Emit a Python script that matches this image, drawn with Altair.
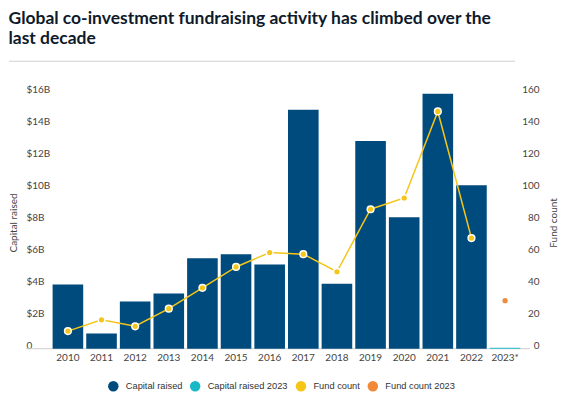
import altair as alt
import pandas as pd

years = ["2010", "2011", "2012", "2013", "2014", "2015", "2016", "2017",
         "2018", "2019", "2020", "2021", "2022", "2023*"]
capital_raised = [4.0, 0.95, 2.95, 3.45, 5.65, 5.9, 5.25, 14.9, 4.05, 12.95,
                  8.2, 15.9, 10.2, 0.06]
capital_series = ["Capital raised"] * 13 + ["Capital raised 2023"]
fund_count = [11, 18, 14, 25, 38, 51, 60, 59, 48, 87, 94, 148, 69, 30]
count_series = ["Fund count"] * 13 + ["Fund count 2023"]

series_names = ["Capital raised", "Capital raised 2023", "Fund count", "Fund count 2023"]
series_colors = ["#004b7d", "#17b9c7", "#f5c518", "#f08a38"]

bars_df = pd.DataFrame({"year": years, "capital": capital_raised, "series": capital_series})
count_df = pd.DataFrame({"year": years, "count": fund_count, "series": count_series})
line_df = count_df[count_df["series"] == "Fund count"]
dummy = pd.DataFrame({"k": [0]})

W, H = 472, 257
FONT = "Lato"

x_enc = alt.X("year:N", sort=years, title=None,
              scale=alt.Scale(paddingInner=0.09, paddingOuter=0.05),
              axis=alt.Axis(labelAngle=0, tickSize=0, domain=False, labelPadding=4,
                            labelFont=FONT, labelFontSize=10, labelColor="#444"))

color_enc = alt.Color("series:N", title=None,
                      scale=alt.Scale(domain=series_names, range=series_colors),
                      legend=alt.Legend(orient="none", direction="horizontal", columns=4,
                                        legendX=57, legendY=289,
                                        symbolType="circle", symbolSize=110,
                                        symbolStrokeWidth=0, symbolOpacity=1,
                                        labelFont="Liberation Sans", labelFontSize=9.3,
                                        labelColor="#333", labelOffset=7,
                                        columnPadding=7))

count_axis = alt.Axis(orient="right", values=list(range(0, 161, 20)), labelOverlap=False,
                      tickSize=0, domain=False, grid=False,
                      labelAlign="right", labelPadding=17, labelBaseline="alphabetic",
                      labelFont=FONT, labelFontSize=10, labelColor="#444",
                      title="Fund count", titleFont=FONT, titleFontSize=10,
                      titleFontWeight="normal", titleColor="#444",
                      titleX=31, titleY=H / 2 + 2, titleAngle=-90,
                      titleBaseline="middle", titleAlign="center")

bars = alt.Chart(bars_df).mark_bar().encode(
    x=x_enc,
    y=alt.Y("capital:Q", scale=alt.Scale(domain=[0, 16]),
            axis=alt.Axis(values=list(range(0, 17, 2)), labelOverlap=False,
                          labelExpr="datum.value == 0 ? '0' : '$' + datum.value + 'B'",
                          tickSize=0, domain=False, grid=False,
                          labelAlign="left", labelPadding=25, labelBaseline="alphabetic",
                          labelFont=FONT, labelFontSize=10, labelColor="#444",
                          title="Capital raised", titleFont=FONT, titleFontSize=10,
                          titleFontWeight="normal", titleColor="#444",
                          titleX=-37, titleY=H / 2 + 2, titleAngle=-90,
                          titleBaseline="middle", titleAlign="center")),
    color=color_enc,
)

line = alt.Chart(line_df).mark_line(color="#f5c518", strokeWidth=1.5).encode(
    x=alt.X("year:N", sort=years),
    y=alt.Y("count:Q", scale=alt.Scale(domain=[0, 160]), axis=count_axis),
)

points = alt.Chart(count_df).mark_point(filled=True, size=45, stroke="white",
                                          strokeWidth=1.5, opacity=1).encode(
    x=alt.X("year:N", sort=years),
    y=alt.Y("count:Q", scale=alt.Scale(domain=[0, 160]), axis=count_axis),
    color=color_enc,
)

baseline = alt.Chart(dummy).mark_rule(color="#cfcfcf", strokeWidth=1).encode(
    x=alt.value(-25), x2=alt.value(W + 8), y=alt.value(H))

separator = alt.Chart(dummy).mark_rule(color="#d0d0d0", strokeWidth=1).encode(
    x=alt.value(-42), x2=alt.value(W - 7), y=alt.value(-31))

chart = alt.layer(
    separator, baseline, bars, alt.layer(line, points)
).resolve_scale(y="independent").properties(
    width=W, height=H,
    padding={"left": 0, "top": 2, "right": 0, "bottom": 0},
    title=alt.Title(
        ["Global co-investment fundraising activity has climbed over the", "last decade"],
        anchor="start", frame="bounds", font=FONT, fontSize=17.5, fontWeight="bold",
        color="#0e1a2b", lineHeight=20, offset=13, baseline="top"),
).configure_view(stroke=None)

chart.save("out.html", embed_options={"renderer": "svg", "actions": False})
